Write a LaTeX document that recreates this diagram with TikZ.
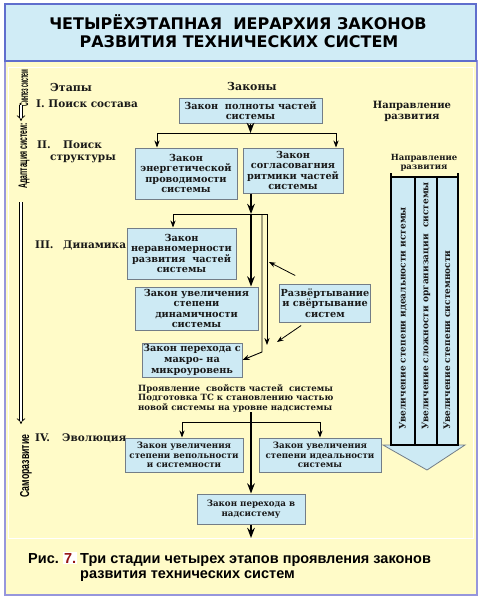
\documentclass[tikz,border=0pt]{standalone}
\usepackage{fontspec}
\usepackage{graphicx}
\setmainfont{DejaVu Serif}
\newfontfamily\titlefont{DejaVu Sans}
\newfontfamily\capfont{Liberation Sans}
\usetikzlibrary{calc, arrows.meta, positioning}

\definecolor{panelyellow}{RGB}{255,251,200}
\definecolor{titleblue}{RGB}{208,236,246}
\definecolor{boxblue}{RGB}{205,234,244}
\definecolor{boxgray}{RGB}{115,125,135}
\definecolor{framelav}{RGB}{150,150,220}
\definecolor{titleframe}{RGB}{95,110,205}
\definecolor{numred}{RGB}{150,20,20}
\definecolor{inktext}{RGB}{25,25,25}

\begin{document}
\begin{tikzpicture}[x=1pt, y=-1pt, >=Stealth,
    law/.style={draw=boxgray, fill=boxblue, line width=1pt, align=center,
                inner sep=1pt, text=inktext, font=\bfseries\fontsize{9.7}{10.6}\selectfont},
    lawsmall/.style={law, font=\bfseries\fontsize{8.7}{9.5}\selectfont},
    stage/.style={anchor=base west, inner sep=0pt, text=inktext,
                  font=\bfseries\fontsize{10.5}{12}\selectfont},
    sidetext/.style={rotate=90, inner sep=0pt, font=\capfont\bfseries\fontsize{9}{10}\selectfont},
    colband/.style={draw=black, line width=1.3pt, fill=boxblue},
    coltext/.style={rotate=90, anchor=west, inner sep=0pt, text=inktext,
                    font=\bfseries\fontsize{9}{10}\selectfont},
    spine/.style={->, line width=1.6pt},
    link/.style={->, line width=0.9pt},
    twin/.style={double, double distance=2.2pt, line width=0.7pt, -{Implies}},
    captext/.style={anchor=base west, inner sep=0pt, font=\capfont\bfseries\fontsize{14.5}{16}\selectfont}
  ]
  \useasboundingbox (0,0) rectangle (483,602);
  \fill[white] (0,0) rectangle (483,602);

  % panels
  \draw[framelav, line width=1.5pt, fill=panelyellow] (5,61) rectangle (477,595);
  \draw[white, line width=0.8pt] (8,67) rectangle (473,538);
  \draw[titleframe, line width=1.2pt, fill=titleblue] (5,4) rectangle (476,61);

  % title
  \node[anchor=base, inner sep=0pt, font=\titlefont\bfseries\fontsize{16}{18}\selectfont] (title1) at (238,30)
    {ЧЕТЫРЁХЭТАПНАЯ\ \ ИЕРАРХИЯ ЗАКОНОВ};
  \node[anchor=base, inner sep=0pt, font=\titlefont\bfseries\fontsize{16}{18}\selectfont] (title2) at (239,48)
    {РАЗВИТИЯ ТЕХНИЧЕСКИХ СИСТЕМ};

  % left strip
  \node[sidetext] (synth) at (24,88) {\resizebox{37pt}{8.5pt}{Синтез систем}};
  \node[sidetext] (adapt) at (24,156) {\resizebox{65pt}{8.5pt}{Адаптация систем:}};
  \node[sidetext] (selfdev) at (26,466) {\resizebox{63pt}{9pt}{Саморазвитие}};
  \draw[twin] (21,105) -- (21,121);
  \draw[twin] (21,202) -- (21,424);

  % stages and headers
  \node[stage, font=\bfseries\fontsize{11}{12}\selectfont] (etapy) at (50,92) {Этапы};
  \node[stage, font=\bfseries\fontsize{11}{12}\selectfont] (zakony) at (227,90) {Законы};
  \node[stage] (st1) at (36,107) {I. Поиск состава};
  \node[stage] (st2) at (37,148) {II.};
  \node[stage] (st2a) at (63,148) {Поиск};
  \node[stage] (st2b) at (50,160) {структуры};
  \node[stage] (st3) at (35,248) {III.};
  \node[stage] (st3a) at (63,248) {Динамика};
  \node[stage] (st4) at (35,441) {IV.};
  \node[stage] (st4a) at (62,441) {Эволюция};
  \node[align=center, inner sep=0pt, text=inktext, font=\bfseries\fontsize{10}{11}\selectfont] (dirtop) at (412,111)
    {Направление\\развития};

  % law boxes
  \node[law, minimum width=143pt, minimum height=25pt] (full) at (250.5,110.5) {Закон\ \ полноты частей\\системы};
  \node[law, minimum width=102pt, minimum height=51pt] (enrg) at (186,173.5) {Закон\\энергетической\\проводимости\\системы};
  \node[law, minimum width=100pt, minimum height=45pt] (ritm) at (293,170.5) {Закон\\согласовагния\\ритмики частей\\системы};
  \node[law, minimum width=109pt, minimum height=51pt] (uneven) at (181.5,253.5) {Закон\\неравномерности\\развития\ \ частей\\системы};
  \node[law, minimum width=123pt, minimum height=43pt] (dyn) at (196.5,308.5) {Закон увеличения\\степени\\динамичности\\системы};
  \node[law, minimum width=100pt, minimum height=34pt] (macro) at (192,360) {Закон перехода с\\макро- на\\микроуровень};
  \node[law, minimum width=88pt, minimum height=38pt] (svert) at (325,303) {Развёртывание\\и свёртывание\\систем};
  \node[anchor=west, align=left, inner sep=0pt, text=inktext, font=\bfseries\fontsize{8.6}{9.5}\selectfont] (prep) at (138,398)
    {Проявление\ \ свойств частей\ \ системы\\Подготовка ТС к становлению частью\\новой системы на уровне надсистемы};
  \node[lawsmall, minimum width=118pt, minimum height=34pt] (vep) at (184,455) {Закон увеличения\\степени вепольности\\и системности};
  \node[lawsmall, minimum width=122pt, minimum height=34pt] (ideal) at (320,455) {Закон увеличения\\степени идеальности\\системы};
  \node[lawsmall, minimum width=108pt, minimum height=30pt] (supra) at (251,509) {Закон перехода в\\надсистему};

  % direction column
  \node[align=center, inner sep=0pt, text=inktext, font=\bfseries\fontsize{8.5}{9}\selectfont] (dirsmall) at (424,163)
    {Направление\\развития};
  \draw[boxgray, line width=0.8pt, fill=boxblue] (383,445) -- (465,445) -- (427,470) -- cycle;
  \foreach \xa/\xb in {391/415, 415/437, 437/458}
    \draw[colband] (\xa,177) rectangle (\xb,445);
  \draw[line width=1.3pt] (391,173) -- (391,177) (458,173) -- (458,177);
  \node[coltext] (grow1) at (403,430) {Увеличение степени идеальности истемы};
  \node[coltext] (grow2) at (426,430) {Увеличение сложности организации\ \ системы};
  \node[coltext] (grow3) at (447,430) {Увеличение степени системности};

  % first split
  \coordinate (forkA) at (250.5,133);
  \coordinate (forkL) at (157,133);
  \coordinate (forkR) at (336,133);
  \draw[spine] (full.south) -- (forkA);
  \draw[line width=0.9pt] (forkL) -- (forkR);
  \draw[link] (forkL) -- (forkL |- enrg.north);
  \draw[link] (forkR) -- (forkR |- ritm.north);

  % dynamics stage
  \coordinate (forkB) at (251,214);
  \coordinate (forkBL) at (173,214);
  \coordinate (railA) at (262,214);
  \coordinate (railB) at (267,214);
  \draw[spine] (ritm.south -| forkB) -- (forkB);
  \draw[spine] (forkB) -- (forkB |- dyn.north);
  \draw[line width=0.9pt] (forkBL) -- (railB);
  \draw[link] (forkBL) -- (forkBL |- uneven.north);
  \draw[link] (railA) -- ++(0,138) -- (macro.east);
  \draw[link] (railB) -- ++(0,131);

  % folding arrows
  \coordinate (foldup) at (269,262);
  \coordinate (folddown) at (277,342);
  \draw[link, line width=0.8pt] ($(svert.north west)+(16,-8)$) -- (foldup);
  \draw[link, line width=0.8pt] ($(svert.south west)+(22,3)$) -- (folddown);

  % evolution stage
  \coordinate (forkC) at (251,422);
  \coordinate (forkCL) at (182,422);
  \coordinate (forkCR) at (320,422);
  \coordinate (exit) at (251,538);
  \draw[spine] (prep.south -| forkC) -- (forkC |- supra.north);
  \draw[line width=0.9pt] (forkCL) -- (forkCR);
  \draw[link] (forkCL) -- (forkCL |- vep.north);
  \draw[link] (forkCR) -- (forkCR |- ideal.north);
  \draw[spine] (supra.south) -- (exit);

  % caption
  \node[captext] (ris) at (28,563) {Рис.};
  \node[captext, fill=white, text=numred, inner sep=0.8pt] (fignum) at ([xshift=4pt]ris.base east) {7.};
  \node[captext] (capline1) at (80,563) {Три стадии четырех этапов проявления законов};
  \node[captext] (capline2) at (80,578) {развития технических систем};
\end{tikzpicture}
\end{document}
